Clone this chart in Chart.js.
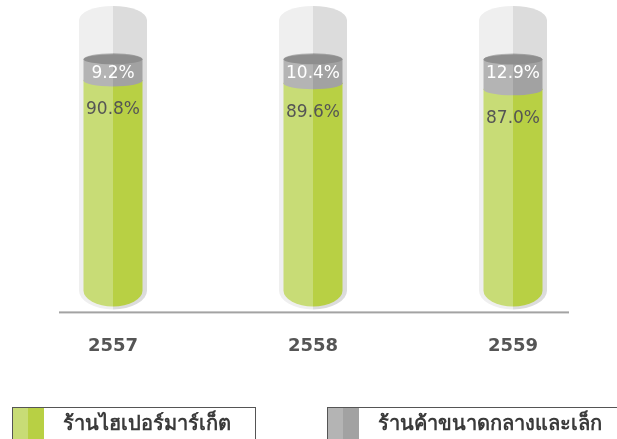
<!DOCTYPE html>
<html lang="th">
<head>
    <meta charset="UTF-8">
    <title>ส่วนแบ่งตลาดค้าปลีก</title>
    <script src="https://cdn.jsdelivr.net/npm/chart.js"></script>
    <style>
        body {
            margin: 0;
            background: #ffffff;
        }
        .wrap {
            position: relative;
            width: 617px;
            height: 439px;
        }
    </style>
</head>
<body>
    <div class="wrap">
        <canvas id="chart"></canvas>
    </div>

    <script>
        // ข้อมูล
        var years = ['2557', '2558', '2559'];
        var hyperShare = [90.8, 89.6, 87.0];
        var smallShare = [9.2, 10.4, 12.9];
        var seriesNames = ['ร้านไฮเปอร์มาร์เก็ต', 'ร้านค้าขนาดกลางและเล็ก'];

        // สีของแต่ละซีรีส์ (ซ้าย / ขวา ของทรงกระบอก)
        var greenL = '#c8dc76', greenR = '#b8d044';
        var grayL = '#b4b4b4', grayR = '#a2a2a2';
        var lidColor = '#8e8e8e';
        var glassL = '#efefef', glassR = '#dcdcdc';

        // วาดทรงกระบอกแบ่งครึ่งซ้าย-ขวา
        function cylinder(ctx, cx, w, yTop, yBot, ryTop, ryBot, colL, colR) {
            var rx = w / 2;
            ctx.save();
            ctx.beginPath();
            ctx.moveTo(cx - rx, yTop);
            ctx.lineTo(cx - rx, yBot);
            ctx.ellipse(cx, yBot, rx, ryBot, 0, Math.PI, 0, true);
            ctx.lineTo(cx + rx, yTop);
            ctx.ellipse(cx, yTop, rx, ryTop, 0, 0, Math.PI, true);
            ctx.closePath();
            ctx.clip();
            ctx.fillStyle = colL;
            ctx.fillRect(cx - rx - 1, yTop - ryTop - 1, rx + 1, yBot - yTop + ryTop + ryBot + 2);
            ctx.fillStyle = colR;
            ctx.fillRect(cx, yTop - ryTop - 1, rx + 1, yBot - yTop + ryTop + ryBot + 2);
            ctx.restore();
        }

        var cylinderPlugin = {
            id: 'cylinders',
            beforeDatasetDraw: function() {
                return false; // ไม่ใช้แท่งปกติ
            },
            afterDatasetsDraw: function(chart) {
                var ctx = chart.ctx;
                var yScale = chart.scales.y;
                var greenBars = chart.getDatasetMeta(0).data;
                var grayBars = chart.getDatasetMeta(1).data;

                // เส้นฐาน
                var first = greenBars[0], last = greenBars[greenBars.length - 1];
                ctx.save();
                ctx.fillStyle = '#a3a3a3';
                ctx.fillRect(first.x - 54, first.base + 21, last.x - first.x + 110, 2);
                ctx.restore();

                for (var i = 0; i < greenBars.length; i++) {
                    var g = greenBars[i], s = grayBars[i];
                    var cx = g.x, w = g.width;
                    var base = g.base;
                    var top = yScale.getPixelForValue(yScale.max);

                    // กระบอกแก้ว (พื้นหลัง)
                    cylinder(ctx, cx, w + 9, top, base, 14, 19, glassL, glassR);

                    // ส่วนสีเขียว
                    cylinder(ctx, cx, w, g.y, base, 6, 16, greenL, greenR);

                    // ส่วนสีเทา
                    cylinder(ctx, cx, w, s.y, g.y, 6, 6, grayL, grayR);

                    // ฝาด้านบน
                    ctx.save();
                    ctx.beginPath();
                    ctx.ellipse(cx, s.y, w / 2, 5, 0, 0, Math.PI * 2);
                    ctx.fillStyle = lidColor;
                    ctx.fill();
                    ctx.restore();

                    // ป้ายค่า
                    ctx.save();
                    ctx.font = '17px "DejaVu Sans", sans-serif';
                    ctx.textAlign = 'center';
                    ctx.textBaseline = 'middle';
                    ctx.fillStyle = '#ffffff';
                    ctx.fillText(smallShare[i].toFixed(1) + '%', cx, s.y + 14);
                    ctx.fillStyle = '#555555';
                    ctx.fillText(hyperShare[i].toFixed(1) + '%', cx, g.y + 29);
                    ctx.restore();
                }
            },
            afterDraw: function(chart) {
                // คำอธิบายสัญลักษณ์
                var ctx = chart.ctx;
                var boxes = [
                    { x: 12, w: 243, cl: greenL, cr: greenR, text: seriesNames[0] },
                    { x: 327, w: 300, cl: grayL, cr: grayR, text: seriesNames[1] }
                ];
                ctx.save();
                boxes.forEach(function(b) {
                    var y = 407;
                    ctx.fillStyle = b.cl;
                    ctx.fillRect(b.x, y, 16, 40);
                    ctx.fillStyle = b.cr;
                    ctx.fillRect(b.x + 16, y, 16, 40);
                    ctx.strokeStyle = '#555555';
                    ctx.lineWidth = 1;
                    ctx.strokeRect(b.x + 0.5, y + 0.5, b.w, 40);
                    ctx.fillStyle = '#3a3a3a';
                    ctx.font = 'bold 20px "Noto Sans", sans-serif';
                    ctx.textBaseline = 'middle';
                    ctx.textAlign = 'left';
                    ctx.fillText(b.text, b.x + 51, y + 17);
                });
                ctx.restore();
            }
        };

        var chart = new Chart(document.getElementById('chart').getContext('2d'), {
            type: 'bar',
            data: {
                labels: years,
                datasets: [
                    { label: seriesNames[0], data: hyperShare, backgroundColor: greenR },
                    { label: seriesNames[1], data: smallShare, backgroundColor: grayR }
                ]
            },
            options: {
                responsive: true,
                maintainAspectRatio: false,
                animation: false,
                layout: {
                    padding: { left: 13, right: 4, top: 20, bottom: 37 }
                },
                datasets: {
                    bar: { categoryPercentage: 1, barPercentage: 0.295 }
                },
                plugins: {
                    legend: { display: false },
                    tooltip: { enabled: false }
                },
                scales: {
                    x: {
                        stacked: true,
                        grid: { display: false, drawTicks: false },
                        border: { display: false },
                        ticks: {
                            padding: 45,
                            color: '#555555',
                            font: { family: 'DejaVu Sans', size: 18, weight: 'bold' }
                        }
                    },
                    y: {
                        stacked: true,
                        display: false,
                        min: 0,
                        max: 117
                    }
                }
            },
            plugins: [cylinderPlugin]
        });
    </script>
</body>
</html>
